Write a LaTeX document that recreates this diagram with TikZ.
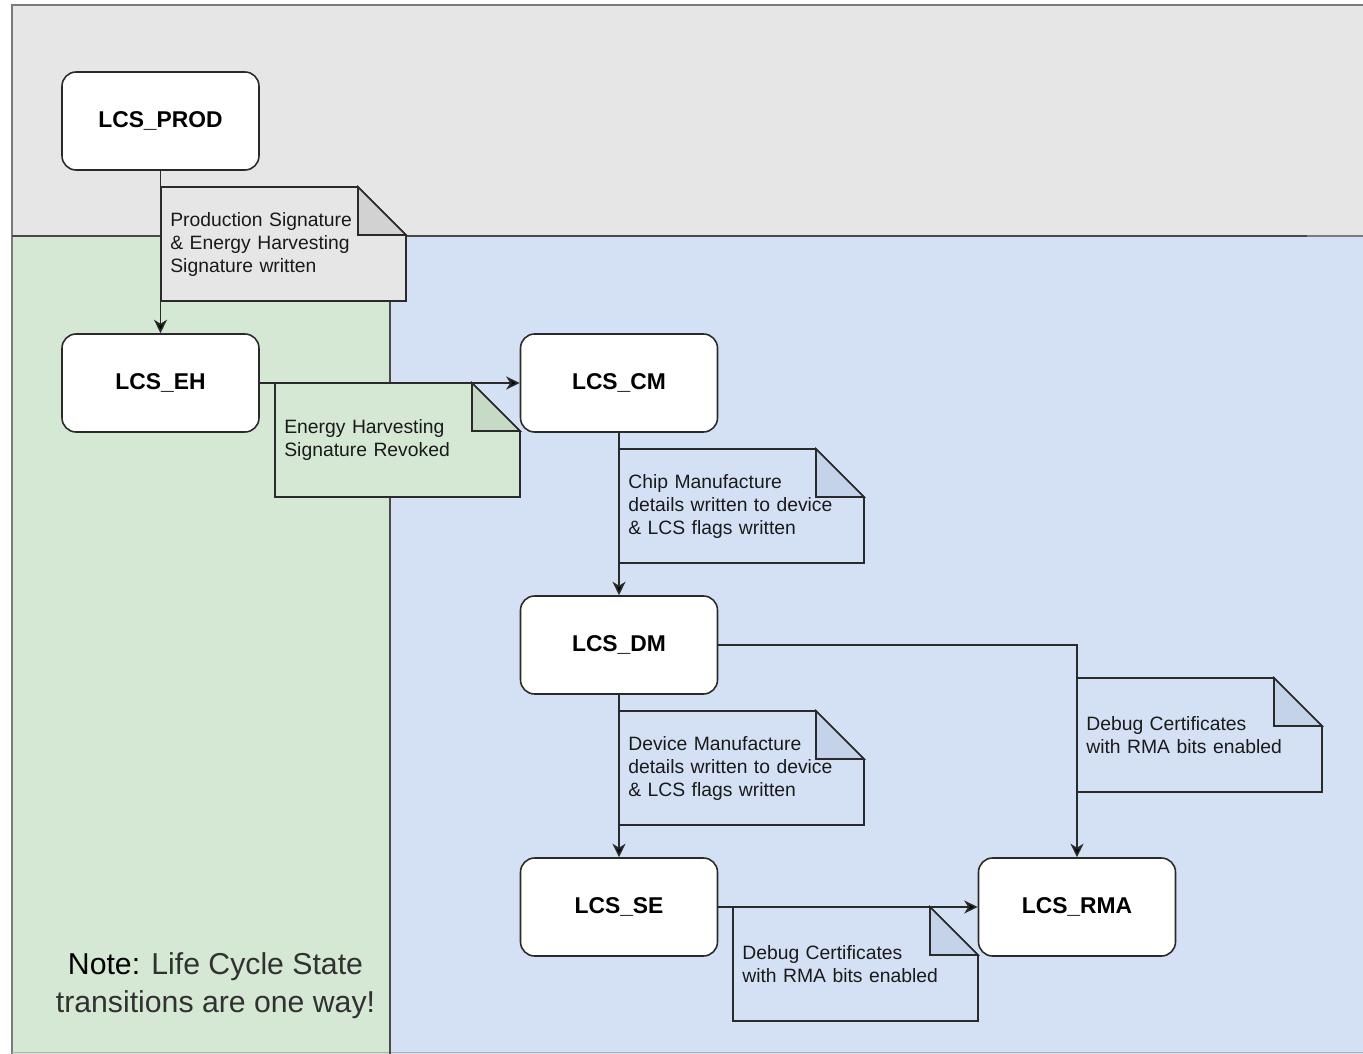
\documentclass[tikz,border=0pt]{standalone}
\usepackage{fontspec}
\setmainfont{Liberation Sans}
\usetikzlibrary{arrows.meta}

\definecolor{areagray}{HTML}{E6E6E6}
\definecolor{areagreen}{HTML}{D5E8D4}
\definecolor{areablue}{HTML}{D4E1F5}
\definecolor{foldgray}{HTML}{D2D2D2}
\definecolor{foldgreen}{HTML}{C6DAC5}
\definecolor{foldblue}{HTML}{C5D3EA}
\definecolor{edgeline}{HTML}{2A2A2A}
\definecolor{frameline}{HTML}{7A7A7A}
\definecolor{notetext}{HTML}{1A1A1A}

\tikzset{
  state/.style={draw=edgeline, line width=0.9pt, fill=white, rounded corners=8pt,
    minimum width=3.94cm, minimum height=1.96cm, inner sep=0pt,
    font=\bfseries\fontsize{13}{15}\selectfont},
  notebody/.style={anchor=north west, minimum width=4.9cm, minimum height=2.28cm,
    text width=4.54cm, inner xsep=0.18cm, inner ysep=0pt, align=left,
    font=\fontsize{11}{13}\selectfont, text=notetext},
  noteline/.style={draw=edgeline, line width=0.9pt},
  link/.style={draw=edgeline, line width=0.9pt,
    -{Stealth[length=2.7mm,width=2.6mm,inset=0.8mm,fill=black]}},
}

% folded-corner note: name, x, y (top-left), body fill, fold fill, text
\newcommand\foldnote[6]{%
  \path[noteline, fill=#4] (#2,#3) -- ++(197,0) -- ++(48,48) -- ++(0,66)
    -- ++(-245,0) -- cycle;
  \path[noteline, fill=#5] (#2+197,#3) -- ++(0,48) -- ++(48,0) -- cycle;
  \node[notebody] (#1) at (#2,#3) {#6};
}

\begin{document}
\begin{tikzpicture}[x=0.02cm, y=-0.02cm]
  \useasboundingbox (0,0) rectangle (1363,1054);
  \clip (0,0) rectangle (1363,1054);

  % swimlane areas
  \fill[areagray]  (12,5)    rectangle (1375,236);
  \fill[areagreen] (12,236)  rectangle (390,1060);
  \fill[areablue]  (390,236) rectangle (1375,1060);
  \draw[frameline, line width=1.3pt] (12,1060) -- (12,5) -- (1375,5);
  \draw[frameline!60, line width=1pt] (12,1052.5) -- (1375,1052.5);
  \draw[edgeline!85, line width=1.1pt] (12,236) -- (1307,236);
  \draw[frameline, line width=1.1pt] (1307,236) -- (1375,236);
  \draw[edgeline!85, line width=1.1pt] (390,236) -- (390,1060);

  % life cycle states
  \node[state] (prod) at (160.5,121) {LCS\_PROD};
  \node[state] (eh)   at (160.5,383) {LCS\_EH};
  \node[state] (cm)   at (619,383)   {LCS\_CM};
  \node[state] (dm)   at (619,645)   {LCS\_DM};
  \node[state] (se)   at (619,907)   {LCS\_SE};
  \node[state] (rma)  at (1077,907)  {LCS\_RMA};

  % transitions
  \draw[link] (prod) -- (eh);
  \draw[link] (eh) -- (cm);
  \draw[link] (cm) -- (dm);
  \draw[link] (dm) -- (se);
  \draw[link] (se) -- (rma);
  \draw[link] (dm.east) -| (rma.north);

  % transition notes
  \foldnote{nprod}{161}{187}{areagray}{foldgray}
    {Production Signature\\\& Energy Harvesting\\Signature written}
  \foldnote{neh}{275}{383}{areagreen}{foldgreen}
    {Energy Harvesting\\Signature Revoked}
  \foldnote{ncm}{619}{449}{areablue}{foldblue}
    {Chip Manufacture\\details written to device\\\& LCS flags written}
  \foldnote{ndm}{619}{711}{areablue}{foldblue}
    {Device Manufacture\\details written to device\\\& LCS flags written}
  \foldnote{nrma}{1077}{678}{areablue}{foldblue}
    {Debug Certificates\\with RMA bits enabled}
  \foldnote{nse}{733}{907}{areablue}{foldblue}
    {Debug Certificates\\with RMA bits enabled}

  % remark
  \node[align=center, text=notetext!90, font=\fontsize{17.2}{21.5}\selectfont]
    (remark) at (215.5,986)
    {\textcolor{black}{Note:} Life Cycle State\\transitions are one way!};
\end{tikzpicture}
\end{document}
